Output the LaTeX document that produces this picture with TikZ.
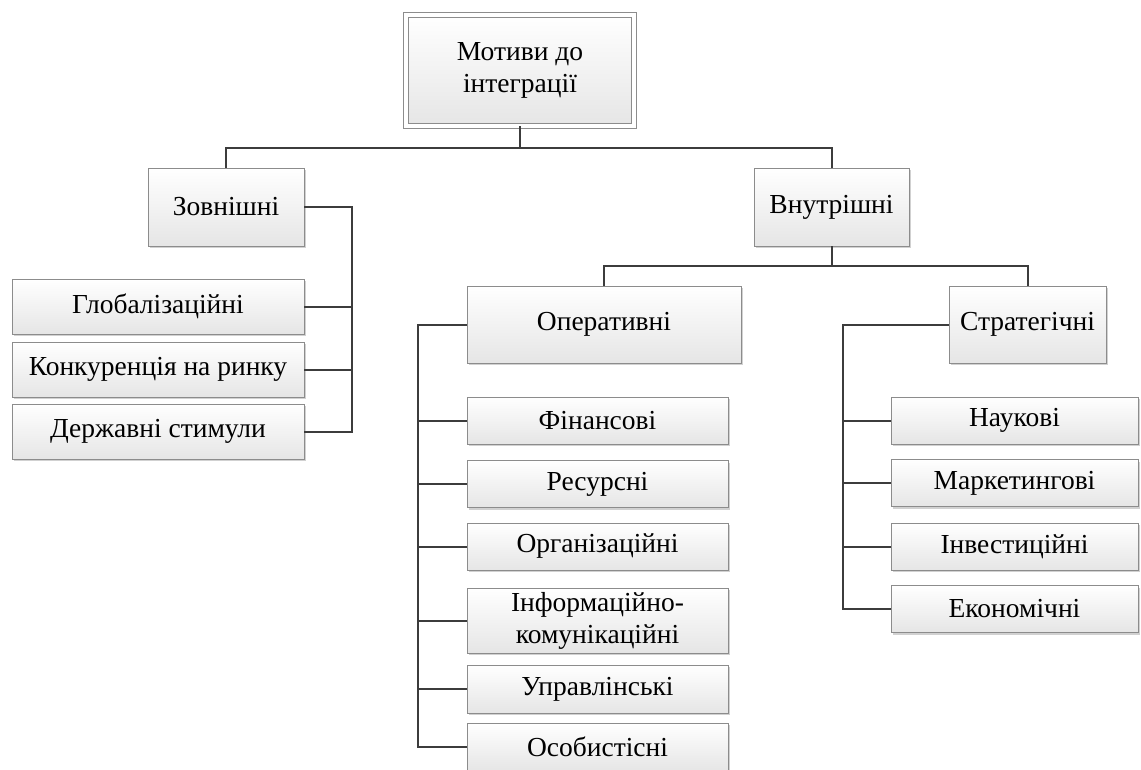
\documentclass[tikz,border=0pt]{standalone}
\usepackage{fontspec}
\setmainfont{Liberation Serif}
\usetikzlibrary{shadows}
\definecolor{lnc}{HTML}{3C3C3C}
\definecolor{bdc}{HTML}{8C8C8C}
\begin{document}
\begin{tikzpicture}[x=1pt,y=-1pt,
  box/.style={draw=bdc, line width=0.9pt, rectangle, inner sep=0pt, align=center,
    top color=white, bottom color=black!10,
    drop shadow={shadow xshift=2pt, shadow yshift=-2pt, fill=black!30, opacity=0.6},
    font=\fontsize{27.5}{32}\selectfont},
  conn/.style={draw=lnc, line width=2pt}]
\useasboundingbox (0,0) rectangle (1141,769);
\begin{scope}
\clip (0,0) rectangle (1141,769);
% top
\node[box, double=white, double distance=4pt, minimum width=228pt, minimum height=111pt] (top) at (520,70.5) {Мотиви до\\інтеграції};
% level 1
\node[box, minimum width=156pt, minimum height=78pt] (zov) at (226,207) {Зовнішні};
\node[box, minimum width=155pt, minimum height=78pt] (vnu) at (831.5,207) {Внутрішні};
% external children
\node[box, minimum width=292pt, minimum height=55pt] (glob) at (158,306.5) {Глобалізаційні};
\node[box, minimum width=292pt, minimum height=55pt] (konk) at (158,369.5) {Конкуренція на ринку};
\node[box, minimum width=292pt, minimum height=55pt] (derzh) at (158,431.5) {Державні стимули};
% level 2
\node[box, minimum width=274pt, minimum height=77pt] (oper) at (604,324.5) {Оперативні};
\node[box, minimum width=157pt, minimum height=77pt] (strat) at (1027.5,324.5) {Стратегічні};
% operative children
\node[box, minimum width=261pt, minimum height=47pt] (fin) at (597.5,420.5) {Фінансові};
\node[box, minimum width=261pt, minimum height=47pt] (res) at (597.5,484) {Ресурсні};
\node[box, minimum width=261pt, minimum height=47pt] (org) at (597.5,546.5) {Організаційні};
\node[box, minimum width=261pt, minimum height=65pt] (info) at (597.5,620.5) {Інформаційно-\\комунікаційні};
\node[box, minimum width=261pt, minimum height=48pt] (upr) at (597.5,689) {Управлінські};
\node[box, minimum width=261pt, minimum height=48pt] (osob) at (597.5,747) {Особистісні};
% strategic children
\node[box, minimum width=247pt, minimum height=47pt] (nauk) at (1014.5,420.5) {Наукові};
\node[box, minimum width=247pt, minimum height=47pt] (mark) at (1014.5,483) {Маркетингові};
\node[box, minimum width=247pt, minimum height=47pt] (inv) at (1014.5,546.5) {Інвестиційні};
\node[box, minimum width=247pt, minimum height=47pt] (ekon) at (1014.5,609) {Економічні};
% connectors
\coordinate (h1) at (520,148);
\draw[conn] (top.south) -- (h1);
\draw[conn] (zov.north) |- (h1) -| (vnu.north);
\coordinate (zb) at (352,0);
\draw[conn] (zov.east) -| (zb |- derzh.east) -- (derzh.east);
\draw[conn] (glob.east) -- (zb |- glob.east);
\draw[conn] (konk.east) -- (zb |- konk.east);
\coordinate (h2) at (831.5,266);
\draw[conn] (vnu.south) -- (h2);
\draw[conn] (oper.north) |- (h2) -| (strat.north);
\coordinate (ob) at (418,0);
\draw[conn] (oper.west) -| (ob |- osob.west) -- (osob.west);
\foreach \n in {fin,res,org,info,upr} \draw[conn] (\n.west) -- (ob |- \n.west);
\coordinate (sb) at (843,0);
\draw[conn] (strat.west) -| (sb |- ekon.west) -- (ekon.west);
\foreach \n in {nauk,mark,inv} \draw[conn] (\n.west) -- (sb |- \n.west);
\end{scope}
\end{tikzpicture}
\end{document}
